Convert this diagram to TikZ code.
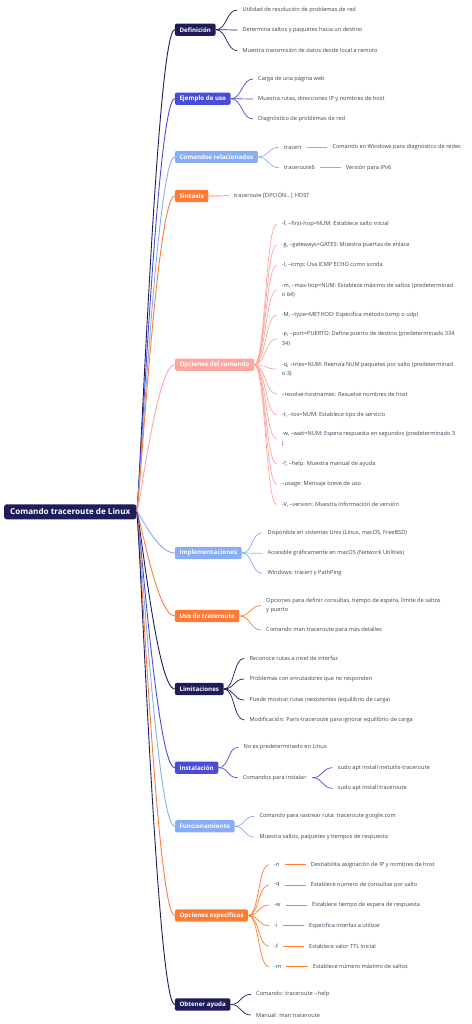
\documentclass[tikz,border=0pt]{standalone}
\usepackage{fontspec}
\setmainfont{Open Sans}
\definecolor{navy}{HTML}{1F1C5B}
\definecolor{violet}{HTML}{4A4BD7}
\definecolor{lblue}{HTML}{88ACF8}
\definecolor{orng}{HTML}{FF7B35}
\definecolor{salmon}{HTML}{FFA69E}
\definecolor{txt}{HTML}{404056}
\newcommand\mmtrunk[2]{\draw[trunkline,#2] (root.east) .. controls +(3,0) and +(-18,0) .. (#1.west);}
\newcommand\mmtwig[3]{\draw[twigline,#3] (#1.east) .. controls +(11,0) and +(-11,0) .. (#2.west);}
\newcommand\mmstraight[3]{\draw[twigline,#3] (#1.east) -- (#2.west);}
\begin{document}
\begin{tikzpicture}[x=1pt,y=-1pt,
  rootbox/.style={fill=navy, text=white, rounded corners=2.5pt, inner xsep=6pt, inner ysep=0pt, minimum height=15pt, font=\fontsize{8.1}{9}\selectfont\bfseries, anchor=west},
  box/.style={rounded corners=2pt, text=white, inner xsep=4.6pt, inner ysep=0pt, minimum height=12.3pt, font=\fontsize{6.2}{7}\selectfont\bfseries, anchor=west},
  leaf/.style={text=txt, inner xsep=5pt, inner ysep=1pt, anchor=west, align=left, font=\fontsize{5.64}{9.3}\selectfont},
  trunkline/.style={line width=0.9pt},
  twigline/.style={line width=0.7pt}]
\useasboundingbox (0,0) rectangle (471,1024);

\node[rootbox] (root) at (4,511.8) {Comando traceroute de Linux};

% branches
\node[box, fill=navy] (b1) at (174.7,29.7) {Definición};
\node[box, fill=violet] (b2) at (174.7,98.7) {Ejemplo de uso};
\node[box, fill=lblue] (b3) at (174.7,157) {Comandos relacionados};
\node[box, fill=orng] (b4) at (174.7,196) {Sintaxis};
\node[box, fill=salmon] (b5) at (174.7,364.7) {Opciones del comando};
\node[box, fill=lblue] (b6) at (174.7,553) {Implementaciones};
\node[box, fill=orng] (b7) at (174.7,616) {Uso de traceroute};
\node[box, fill=navy] (b8) at (174.7,689) {Limitaciones};
\node[box, fill=violet] (b9) at (174.7,767.7) {Instalación};
\node[box, fill=lblue] (b10) at (174.7,826.3) {Funcionamiento};
\node[box, fill=orng] (b11) at (174.7,915.5) {Opciones específicas};
\node[box, fill=navy] (b12) at (174.7,1004.5) {Obtener ayuda};

\mmtrunk{b1}{navy}
\mmtrunk{b2}{violet}
\mmtrunk{b3}{lblue}
\mmtrunk{b4}{orng}
\mmtrunk{b5}{salmon}
\mmtrunk{b6}{lblue}
\mmtrunk{b7}{orng}
\mmtrunk{b8}{navy}
\mmtrunk{b9}{violet}
\mmtrunk{b10}{lblue}
\mmtrunk{b11}{orng}
\mmtrunk{b12}{navy}

% b1
\node[leaf] (c11) at (237.3,10) {Utilidad de resolución de problemas de red};
\node[leaf] (c12) at (237.3,30) {Determina saltos y paquetes hacia un destino};
\node[leaf] (c13) at (237.3,50.7) {Muestra transmisión de datos desde local a remoto};
\mmtwig{b1}{c11}{navy}\mmtwig{b1}{c12}{navy}\mmtwig{b1}{c13}{navy}

% b2
\node[leaf] (c21) at (253,79) {Carga de una página web};
\node[leaf] (c22) at (253,99) {Muestra rutas, direcciones IP y nombres de host};
\node[leaf] (c23) at (253,119) {Diagnóstico de problemas de red};
\mmtwig{b2}{c21}{violet}\mmtwig{b2}{c22}{violet}\mmtwig{b2}{c23}{violet}

% b3
\node[leaf] (c31) at (279,147.3) {tracert};
\node[leaf] (c32) at (279,167.7) {traceroute6};
\node[leaf] (g311) at (327.3,147.3) {Comando en Windows para diagnóstico de redes};
\node[leaf] (g321) at (340.7,167.7) {Versión para IPv6};
\mmtwig{b3}{c31}{lblue}\mmtwig{b3}{c32}{lblue}
\mmstraight{c31}{g311}{lblue}\mmstraight{c32}{g321}{lblue}

% b4
\node[leaf] (c41) at (229,195.8) {traceroute [OPCIÓN...] HOST};
\mmstraight{b4}{c41}{orng}

% b5
\node[leaf] (c51) at (276.7,224.3) {-f, --first-hop=NUM: Establece salto inicial};
\node[leaf] (c52) at (276.7,245) {-g, --gateways=GATES: Muestra puertas de enlace};
\node[leaf] (c53) at (276.7,265.3) {-I, --icmp: Usa ICMP ECHO como sonda};
\node[leaf] (c54) at (276.7,290.3) {-m, --max-hop=NUM: Establece máximo de saltos (predeterminad\\o 64)};
\node[leaf] (c55) at (276.7,315) {-M, --type=METHOD: Especifica método (icmp o udp)};
\node[leaf] (c56) at (276.7,338.7) {-p, --port=PUERTO: Define puerto de destino (predeterminado 334\\34)};
\node[leaf] (c57) at (276.7,369) {-q, --tries=NUM: Reenvía NUM paquetes por salto (predeterminad\\o 3)};
\node[leaf] (c58) at (276.7,394) {--resolve-hostnames: Resuelve nombres de host};
\node[leaf] (c59) at (276.7,414.7) {-t, --tos=NUM: Establece tipo de servicio};
\node[leaf] (c510) at (276.7,438.8) {-w, --wait=NUM: Espera respuesta en segundos (predeterminado 3\\)};
\node[leaf] (c511) at (276.7,464) {-?, --help: Muestra manual de ayuda};
\node[leaf] (c512) at (276.7,484.3) {--usage: Mensaje breve de uso};
\node[leaf] (c513) at (276.7,504.5) {-V, --version: Muestra información de versión};
\foreach \n in {c51,c52,c53,c54,c55,c56,c57,c58,c59,c510,c511,c512,c513}{\mmtwig{b5}{\n}{salmon}}

% b6
\node[leaf] (c61) at (262.3,532.7) {Disponible en sistemas Unix (Linux, macOS, FreeBSD)};
\node[leaf] (c62) at (262.3,553.3) {Accesible gráficamente en macOS (Network Utilities)};
\node[leaf] (c63) at (262.3,573.3) {Windows: tracert y PathPing};
\mmtwig{b6}{c61}{lblue}\mmtwig{b6}{c62}{lblue}\mmtwig{b6}{c63}{lblue}

% b7
\node[leaf] (c71) at (261,605.5) {Opciones para definir consultas, tiempo de espera, límite de saltos\\y puerto};
\node[leaf] (c72) at (261,630) {Comando man traceroute para más detalles};
\mmtwig{b7}{c71}{orng}\mmtwig{b7}{c72}{orng}

% b8
\node[leaf] (c81) at (244.3,658.3) {Reconoce rutas a nivel de interfaz};
\node[leaf] (c82) at (244.3,679) {Problemas con enrutadores que no responden};
\node[leaf] (c83) at (244.3,700) {Puede mostrar rutas inexistentes (equilibrio de carga)};
\node[leaf] (c84) at (244.3,720) {Modificación: Paris-traceroute para ignorar equilibrio de carga};
\mmtwig{b8}{c81}{navy}\mmtwig{b8}{c82}{navy}\mmtwig{b8}{c83}{navy}\mmtwig{b8}{c84}{navy}

% b9
\node[leaf] (c91) at (238.3,747.3) {No es predeterminado en Linux};
\node[leaf] (c92) at (237.7,777.7) {Comandos para instalar:};
\node[leaf] (g921) at (332.7,767.7) {sudo apt install inetutils-traceroute};
\node[leaf] (g922) at (332.7,788.3) {sudo apt install traceroute};
\mmtwig{b9}{c91}{violet}\mmtwig{b9}{c92}{violet}
\mmtwig{c92}{g921}{violet}\mmtwig{c92}{g922}{violet}

% b10
\node[leaf] (c101) at (254.3,816.3) {Comando para rastrear ruta: traceroute google.com};
\node[leaf] (c102) at (254.3,837) {Muestra saltos, paquetes y tiempos de respuesta};
\mmtwig{b10}{c101}{lblue}\mmtwig{b10}{c102}{lblue}

% b11
\node[leaf] (c111) at (269,864.7) {-n};
\node[leaf] (c112) at (269,885) {-q};
\node[leaf] (c113) at (269,905) {-w};
\node[leaf] (c114) at (269,925.7) {-i};
\node[leaf] (c115) at (269,946.3) {-f};
\node[leaf] (c116) at (269,966.7) {-m};
\node[leaf] (g111) at (305.7,864.7) {Deshabilita asignación de IP y nombres de host};
\node[leaf] (g112) at (305.7,885) {Establece número de consultas por salto};
\node[leaf] (g113) at (307,905) {Establece tiempo de espera de respuesta};
\node[leaf] (g114) at (304,925.7) {Especifica interfaz a utilizar};
\node[leaf] (g115) at (304,946.3) {Establece valor TTL inicial};
\node[leaf] (g116) at (307.7,966.7) {Establece número máximo de saltos};
\foreach \n in {c111,c112,c113,c114,c115,c116}{\mmtwig{b11}{\n}{orng}}
\mmstraight{c111}{g111}{orng}\mmstraight{c112}{g112}{orng}\mmstraight{c113}{g113}{orng}
\mmstraight{c114}{g114}{orng}\mmstraight{c115}{g115}{orng}\mmstraight{c116}{g116}{orng}

% b12
\node[leaf] (c121) at (251,994.3) {Comando: traceroute -{}-help};
\node[leaf] (c122) at (251,1015) {Manual: man traceroute};
\mmtwig{b12}{c121}{navy}\mmtwig{b12}{c122}{navy}
\end{tikzpicture}
\end{document}
